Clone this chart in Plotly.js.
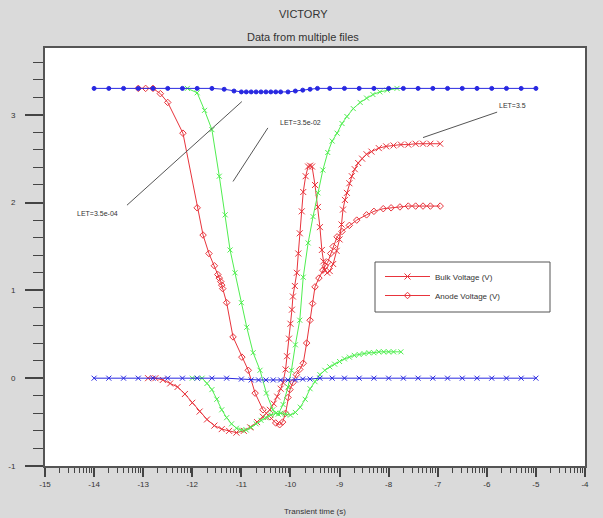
<!DOCTYPE html>
<html><head><meta charset="utf-8">
<script src="https://cdn.plot.ly/plotly-3.0.1.min.js"></script>
<style>html,body{margin:0;padding:0;background:#dadada;}#chart{width:603px;height:518px;}</style>
</head><body><div id="chart"></div>
<script>
// x values are log10(transient time in s)
const xTickVals = [-15,-14,-13,-12,-11,-10,-9,-8,-7,-6,-5,-4];
const xTickText = ["-15","-14","-13","-12","-11","-10","-9","-8","-7","-6","-5","-4"];
const yTickVals = [-1,0,1,2,3];
const yTickText = ["-1","0","1","2","3"];

// LET = 3.5e-04 (blue)
const blueAnodeX = [-14,-13.7,-13.4,-13.1,-12.8,-12.5,-12.2,-11.9,-11.6,-11.35,-11.15,-11.0,-10.9,-10.8,-10.7,-10.6,-10.5,-10.4,-10.3,-10.2,-10.05,-9.9,-9.75,-9.6,-9.45,-9.2,-8.9,-8.6,-8.3,-8.0,-7.7,-7.4,-7.1,-6.8,-6.5,-6.2,-5.9,-5.6,-5.3,-5.0];
const blueAnodeY = [3.30,3.30,3.30,3.30,3.30,3.30,3.30,3.30,3.30,3.29,3.27,3.26,3.26,3.26,3.26,3.26,3.26,3.26,3.26,3.26,3.26,3.27,3.28,3.29,3.30,3.30,3.30,3.30,3.30,3.30,3.30,3.30,3.30,3.30,3.30,3.30,3.30,3.30,3.30,3.30];
const blueBulkX = [-14,-13.7,-13.4,-13.1,-12.8,-12.5,-12.2,-11.9,-11.6,-11.3,-11.0,-10.8,-10.65,-10.5,-10.35,-10.2,-10.05,-9.9,-9.75,-9.6,-9.4,-9.15,-8.9,-8.6,-8.3,-8.0,-7.7,-7.4,-7.1,-6.8,-6.5,-6.2,-5.9,-5.6,-5.3,-5.0];
const blueBulkY = [0,0,0,0,0,0,0,0,0,0,-0.01,-0.02,-0.02,-0.02,-0.02,-0.02,-0.02,-0.02,-0.01,-0.01,0,0,0,0,0,0,0,0,0,0,0,0,0,0,0,0];

// LET = 3.5e-02 (green)
const greenAnodeX = [-12.1,-11.9,-11.75,-11.6,-11.45,-11.33,-11.23,-11.13,-11.0,-10.89,-10.76,-10.62,-10.49,-10.36,-10.25,-10.15,-10.05,-9.98,-9.9,-9.81,-9.74,-9.64,-9.54,-9.44,-9.34,-9.24,-9.15,-9.05,-8.95,-8.85,-8.72,-8.58,-8.45,-8.32,-8.18,-8.03,-7.83];
const greenAnodeY = [3.30,3.25,3.05,2.83,2.30,1.86,1.46,1.20,0.86,0.58,0.29,0.09,-0.17,-0.36,-0.41,-0.30,-0.10,0.09,0.38,0.66,1.15,1.54,1.84,2.11,2.37,2.57,2.70,2.79,2.90,2.98,3.07,3.14,3.19,3.23,3.26,3.28,3.30];
const greenBulkX = [-12.0,-11.8,-11.7,-11.6,-11.5,-11.4,-11.3,-11.2,-11.1,-11.0,-10.9,-10.8,-10.7,-10.6,-10.5,-10.4,-10.3,-10.2,-10.1,-10.0,-9.9,-9.8,-9.7,-9.6,-9.5,-9.4,-9.3,-9.2,-9.1,-9.0,-8.9,-8.8,-8.7,-8.6,-8.5,-8.4,-8.3,-8.2,-8.1,-8.0,-7.9,-7.75];
const greenBulkY = [0,0,-0.06,-0.13,-0.24,-0.36,-0.45,-0.52,-0.57,-0.59,-0.59,-0.56,-0.52,-0.48,-0.45,-0.42,-0.40,-0.40,-0.41,-0.42,-0.39,-0.33,-0.24,-0.12,-0.04,0.04,0.09,0.13,0.16,0.19,0.22,0.24,0.26,0.27,0.28,0.29,0.29,0.30,0.30,0.30,0.30,0.30];

// LET = 3.5 (red)
const redBulkX = [-12.9,-12.75,-12.6,-12.45,-12.3,-12.15,-12.0,-11.85,-11.7,-11.55,-11.4,-11.25,-11.1,-10.95,-10.82,-10.68,-10.56,-10.42,-10.34,-10.27,-10.2,-10.15,-10.1,-10.07,-10.03,-10.0,-9.97,-9.95,-9.91,-9.87,-9.84,-9.81,-9.77,-9.74,-9.69,-9.64,-9.6,-9.56,-9.5,-9.44,-9.4,-9.36,-9.33,-9.3,-9.25,-9.2,-9.13,-9.06,-9.0,-8.96,-8.93,-8.89,-8.85,-8.8,-8.75,-8.69,-8.62,-8.54,-8.45,-8.35,-8.2,-8.05,-7.9,-7.75,-7.6,-7.45,-7.3,-7.15,-6.95];
const redBulkY = [0,0,-0.02,-0.06,-0.10,-0.18,-0.28,-0.38,-0.47,-0.54,-0.58,-0.60,-0.62,-0.60,-0.56,-0.50,-0.44,-0.36,-0.29,-0.21,-0.12,-0.05,0.10,0.25,0.45,0.62,0.78,0.93,1.05,1.20,1.42,1.65,1.90,2.12,2.30,2.41,2.42,2.41,2.20,1.95,1.72,1.46,1.33,1.23,1.20,1.22,1.30,1.45,1.58,1.75,1.92,2.03,2.11,2.22,2.30,2.38,2.45,2.50,2.55,2.58,2.62,2.64,2.65,2.66,2.66,2.67,2.67,2.67,2.67];
const redAnodeX = [-13.1,-12.95,-12.8,-12.65,-12.5,-12.19,-11.9,-11.78,-11.66,-11.55,-11.48,-11.45,-11.42,-11.4,-11.38,-11.3,-11.17,-10.99,-10.86,-10.72,-10.56,-10.42,-10.3,-10.22,-10.16,-10.1,-10.05,-10.01,-9.95,-9.88,-9.81,-9.74,-9.67,-9.6,-9.55,-9.5,-9.42,-9.34,-9.29,-9.24,-9.18,-9.13,-9.05,-8.95,-8.8,-8.65,-8.45,-8.3,-8.11,-7.95,-7.77,-7.6,-7.45,-7.3,-7.15,-6.95];
const redAnodeY = [3.30,3.30,3.30,3.24,3.14,2.79,1.94,1.63,1.42,1.28,1.18,1.14,1.10,1.06,1.02,0.86,0.47,0.24,0.09,-0.17,-0.36,-0.44,-0.51,-0.53,-0.50,-0.40,-0.22,-0.13,-0.05,0.04,0.10,0.17,0.40,0.66,0.85,1.04,1.14,1.23,1.28,1.32,1.42,1.50,1.61,1.67,1.74,1.80,1.86,1.90,1.93,1.94,1.95,1.96,1.96,1.96,1.96,1.96];

// annotation text
const letLabels = ["LET=3.5e-04","LET=3.5e-02","LET=3.5"];

const RED = "rgb(232,52,60)", GREEN = "rgb(80,238,80)", BLUE = "rgb(40,40,225)";

function tr(x, y, color, symbol, name, show, size) {
  return {x:x, y:y, type:"scatter", mode:"lines+markers", name:name, showlegend:show,
    line:{color:color, width:1},
    marker:{color:color, symbol:symbol, size:size, line:{color:color, width:1}}};
}
const data = [
  tr(redBulkX, redBulkY, RED, "x-thin-open", "Bulk Voltage (V)", true, 6),
  tr(redAnodeX, redAnodeY, RED, "diamond-open", "Anode Voltage (V)", true, 5),
  tr(greenAnodeX, greenAnodeY, GREEN, "x-thin-open", "g1", false, 5),
  tr(greenBulkX, greenBulkY, GREEN, "x-thin-open", "g2", false, 5),
  tr(blueAnodeX, blueAnodeY, BLUE, "circle", "b1", false, 4),
  tr(blueBulkX, blueBulkY, BLUE, "x-thin-open", "b2", false, 5)
];

const minorX = [];
for (let n = -15; n < -4; n++) for (let k = 2; k <= 9; k++) minorX.push(n + Math.log10(k));

// plot area in px: x 45..585, y 48..466
const px = v => (v - 45) / 540;
const py = v => (466 - v) / 418;

const fnt = {family:"Liberation Sans, Arial, sans-serif", color:"#333"};
const layout = {
  width:603, height:518,
  paper_bgcolor:"#dadada", plot_bgcolor:"#ffffff",
  margin:{l:45, r:18, t:48, b:52},
  font:Object.assign({size:8}, fnt),
  showlegend:true,
  legend:{x:px(380), y:py(262), xanchor:"left", yanchor:"top", bgcolor:"rgba(0,0,0,0)",
    borderwidth:0, font:Object.assign({size:8}, fnt), itemwidth:45, tracegroupgap:0},
  xaxis:{range:[-15,-4], tickmode:"array", tickvals:xTickVals, ticktext:xTickText,
    ticks:"outside", ticklen:9, tickwidth:2, tickcolor:"#444",
    showline:true, linecolor:"#555", linewidth:2, mirror:true, showgrid:false, zeroline:false,
    tickfont:Object.assign({size:8}, fnt),
    minor:{tickmode:"array", tickvals:minorX, ticks:"outside", ticklen:5, tickwidth:1, tickcolor:"#444", showgrid:false}},
  yaxis:{range:[-1,3.76], tickmode:"array", tickvals:yTickVals, ticktext:yTickText,
    ticks:"outside", ticklen:18, tickwidth:2, tickcolor:"#444", ticklabelstandoff:8,
    showline:true, linecolor:"#555", linewidth:2, mirror:true, showgrid:false, zeroline:false,
    tickfont:Object.assign({size:8}, fnt),
    minor:{dtick:0.2, ticks:"outside", ticklen:10, tickwidth:1, tickcolor:"#444", showgrid:false}},
  annotations:[
    {text:"VICTORY", xref:"paper", yref:"paper", x:px(303), y:py(14), yanchor:"middle", xanchor:"center", showarrow:false, font:Object.assign({size:11}, fnt)},
    {text:"Data from multiple files", xref:"paper", yref:"paper", x:px(303), y:py(37), yanchor:"middle", xanchor:"center", showarrow:false, font:Object.assign({size:11}, fnt)},
    {text:"Transient time (s)", xref:"paper", yref:"paper", x:px(315), y:py(511), yanchor:"middle", xanchor:"center", showarrow:false, font:Object.assign({size:8}, fnt)},
    {text:letLabels[0], xref:"x", yref:"y", x:-13.94, y:1.87, showarrow:false, font:Object.assign({size:7}, fnt)},
    {text:letLabels[1], xref:"x", yref:"y", x:-9.79, y:2.91, showarrow:false, font:Object.assign({size:7}, fnt)},
    {text:letLabels[2], xref:"x", yref:"y", x:-5.47, y:3.10, showarrow:false, font:Object.assign({size:7}, fnt)}
  ],
  shapes:[
    {type:"rect", xref:"paper", yref:"paper", x0:px(375), x1:px(550), y0:py(262), y1:py(312), fillcolor:"#ffffff", line:{color:"#555", width:1}, layer:"below"},
    {type:"line", xref:"x", yref:"y", x0:-13.33, y0:1.97, x1:-10.99, y1:3.15, line:{color:"#555", width:1}},
    {type:"line", xref:"x", yref:"y", x0:-10.46, y0:2.85, x1:-11.17, y1:2.24, line:{color:"#555", width:1}},
    {type:"line", xref:"x", yref:"y", x0:-5.79, y0:3.03, x1:-7.30, y1:2.74, line:{color:"#555", width:1}}
  ]
};
Plotly.newPlot("chart", data, layout, {displayModeBar:false, staticPlot:true});
</script></body></html>
